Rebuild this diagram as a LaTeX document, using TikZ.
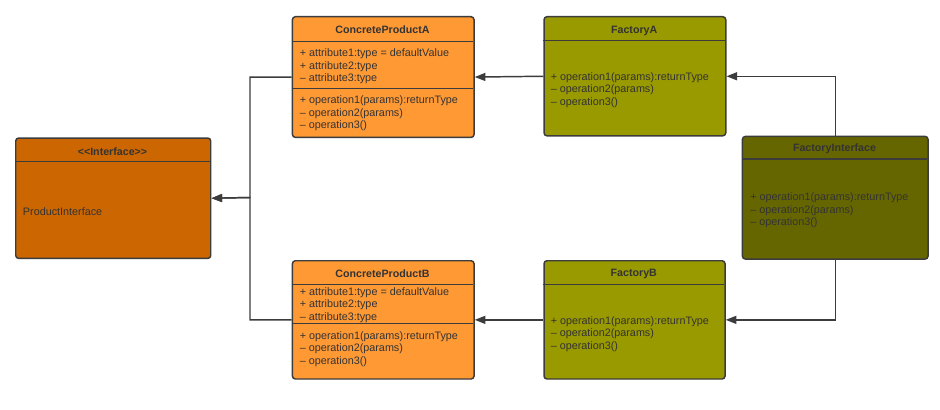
\documentclass[tikz,border=0pt]{standalone}
\usepackage{fontspec}
\setmainfont{Liberation Sans}
\usetikzlibrary{arrows.meta}
\definecolor{prodorange}{HTML}{FF9933}
\definecolor{ifaceorange}{HTML}{CC6600}
\definecolor{factolive}{HTML}{999900}
\definecolor{fiolive}{HTML}{666600}
\definecolor{edgegray}{HTML}{3C3C3C}
\definecolor{txtgray}{HTML}{333333}
\begin{document}
\begin{tikzpicture}[x=0.75pt,y=-0.75pt,
  cls/.style={draw=edgegray, line width=1.1pt, rounded corners=2.2pt, inner sep=0pt, anchor=north west, rectangle},
  div/.style={draw=edgegray, line width=1.1pt},
  ttl/.style={font=\fontsize{8}{9.5}\selectfont\bfseries, text=txtgray, inner sep=0pt},
  txtblk/.style={font=\fontsize{8.1}{9.5}\selectfont, text=txtgray, align=left, anchor=west, inner sep=0pt},
  conn/.style={draw=edgegray, line width=1.1pt, -{Triangle[length=8pt,width=6pt]}}]
\useasboundingbox (0,0) rectangle (940,410);
\fill[white] (0,0) rectangle (940,410);

% ---- class boxes ----
\node[cls, fill=prodorange, minimum width=136.2pt, minimum height=90.5pt] (cpa) at (291.7,16) {};
\node[cls, fill=factolive, minimum width=136.3pt, minimum height=89.3pt] (fa) at (543.3,16) {};
\node[cls, fill=ifaceorange, minimum width=146.25pt, minimum height=90.3pt] (pi) at (15,137.3) {};
\node[cls, fill=fiolive, minimum width=139.2pt, minimum height=92pt] (fi) at (741.7,135.7) {};
\node[cls, fill=prodorange, minimum width=136.2pt, minimum height=88.7pt] (cpb) at (291.7,260) {};
\node[cls, fill=factolive, minimum width=135.75pt, minimum height=88.7pt] (fb) at (543.3,260) {};

% ---- dividers ----
\draw[div] (291.7,41.7) -- (473.3,41.7);
\draw[div] (291.7,88.3) -- (473.3,88.3);
\draw[div] (543.3,40.7) -- (725,40.7);
\draw[div] (15,161.7) -- (210,161.7);
\draw[div] (741.7,159) -- (927.3,159);
\draw[div] (291.7,284.3) -- (473.3,284.3);
\draw[div] (291.7,323.3) -- (473.3,323.3);
\draw[div] (543.3,284.3) -- (724.3,284.3);

% ---- titles ----
\node[ttl] (cpat) at (382.5,30) {ConcreteProductA};
\node[ttl] (fat) at (634.2,30.5) {FactoryA};
\node[ttl] (pit) at (112.5,152) {{<}{<}Interface{>}{>}};
\node[ttl] (fit) at (834.5,149) {FactoryInterface};
\node[ttl] (cpbt) at (382.5,273.5) {ConcreteProductB};
\node[ttl] (fbt) at (633.8,274) {FactoryB};

% ---- members ----
\node[txtblk] (cpaa) at (299.5,66.3) {+ attribute1:type = defaultValue\\+ attribute2:type\\– attribute3:type};
\node[txtblk] (cpao) at (299.5,113.3) {+ operation1(params):returnType\\– operation2(params)\\– operation3()};
\node[txtblk] (fao) at (550.5,90) {+ operation1(params):returnType\\– operation2(params)\\– operation3()};
\node[txtblk] (pio) at (22.7,211.7) {ProductInterface};
\node[txtblk] (fio) at (750,210.3) {+ operation1(params):returnType\\– operation2(params)\\– operation3()};
\node[txtblk] (cpba) at (299.5,305) {+ attribute1:type = defaultValue\\+ attribute2:type\\– attribute3:type};
\node[txtblk] (cpbo) at (299.5,349) {+ operation1(params):returnType\\– operation2(params)\\– operation3()};
\node[txtblk] (fbo) at (550.5,334) {+ operation1(params):returnType\\– operation2(params)\\– operation3()};

% ---- connectors ----
\coordinate (jn) at (250,197.5);
\draw[conn] (fa.west) -- (cpa.east);
\draw[conn] (fb.west) -- (cpb.east);
\draw[conn] (fi.north) |- (fa.east);
\draw[conn] (fi.south) |- (fb.east);
\draw[conn] (cpa.west) -| (jn) -- (pi.east);
\draw[conn] (cpb.west) -| (jn) -- (pi.east);
\end{tikzpicture}
\end{document}
